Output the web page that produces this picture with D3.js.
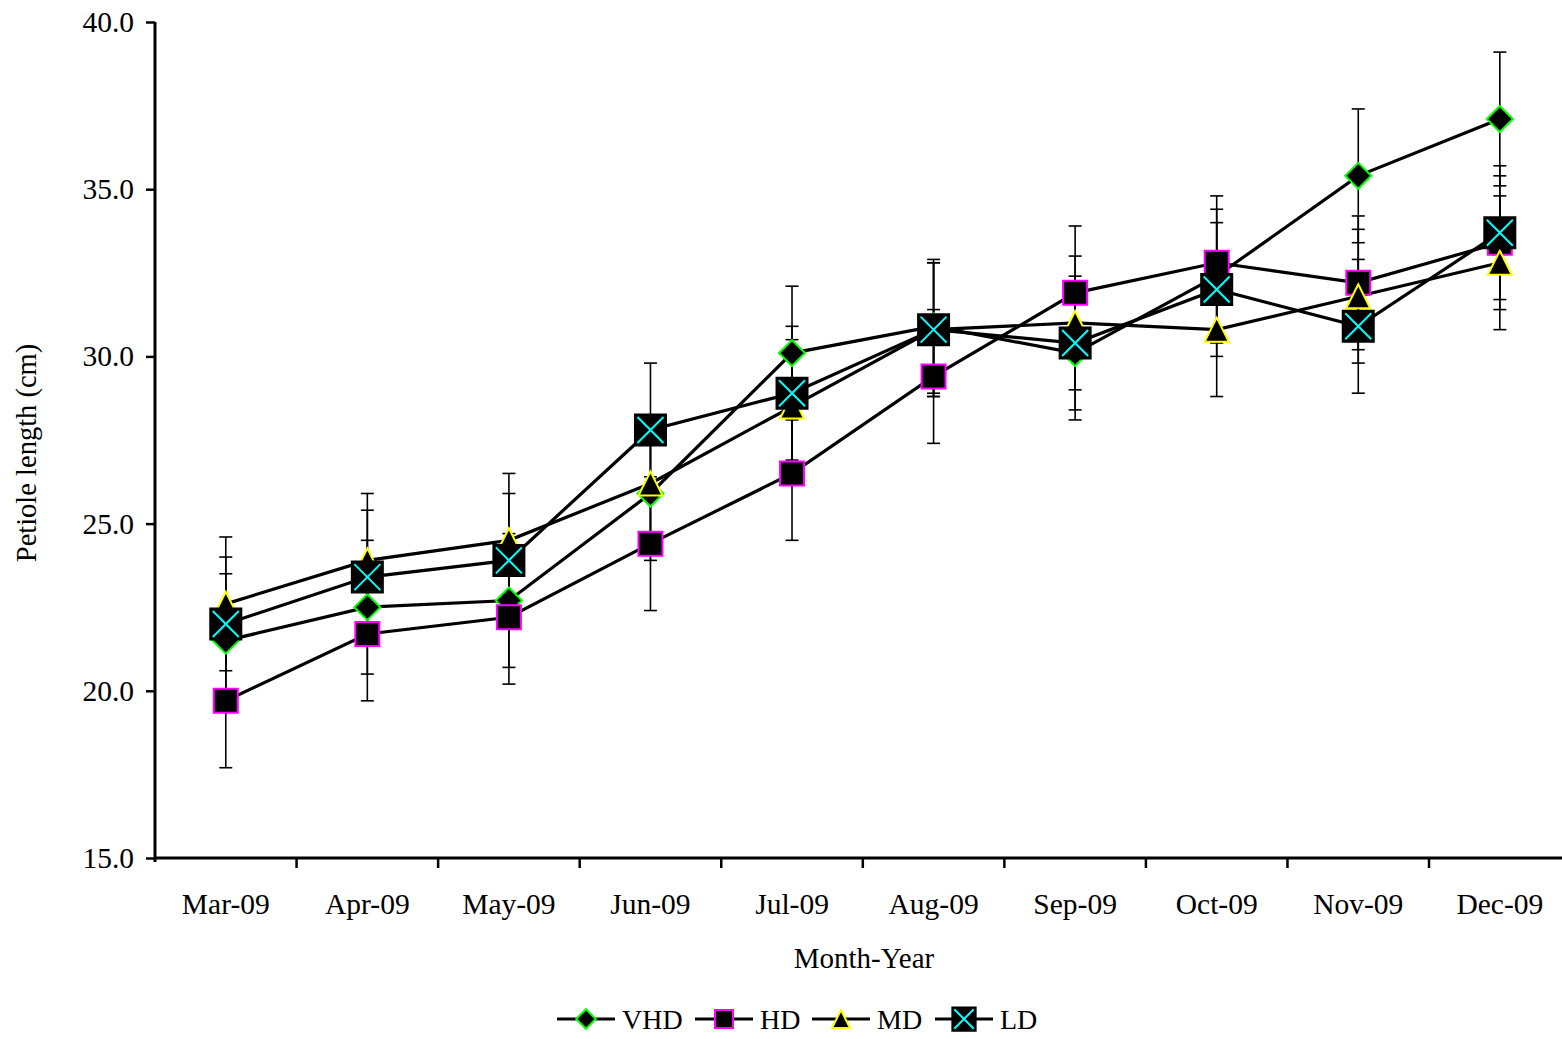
<!DOCTYPE html>
<html>
<head>
<meta charset="utf-8">
<script src="https://cdn.jsdelivr.net/npm/d3@7"></script>
<style>
  body { margin: 0; background: #fff; }
  svg text { font-family: "Liberation Serif", "Times New Roman", serif; fill: #000; }
</style>
</head>
<body>
<svg id="chart" width="1562" height="1039"></svg>
<script>
// datos
const months = ["Mar-09", "Apr-09", "May-09", "Jun-09", "Jul-09", "Aug-09", "Sep-09", "Oct-09", "Nov-09", "Dec-09"];
const vhd = [21.5, 22.5, 22.7, 25.9, 30.1, 30.9, 30.1, 32.4, 35.4, 37.1];
const hd  = [19.7, 21.7, 22.2, 24.4, 26.5, 29.4, 31.9, 32.8, 32.2, 33.4];
const md  = [22.6, 23.9, 24.5, 26.2, 28.5, 30.8, 31.0, 30.8, 31.8, 32.8];
const ld  = [22.0, 23.4, 23.9, 27.8, 28.9, 30.8, 30.4, 32.0, 30.9, 33.7];
const errorBar = 2.0;
const yTicks = [15, 20, 25, 30, 35, 40];

const seriesNames = ["VHD", "HD", "MD", "LD"];
const seriesValues = [vhd, hd, md, ld];

let svg = d3.select("#chart");

// escalas
let x = d3.scaleBand()
    .domain(months)
    .range([155, 1570.6]);

let y = d3.scaleLinear()
    .domain([15, 40])
    .range([858, 22]);

// formas de los marcadores
function markerPath(name, s) {
    if (name === "VHD") {
        let r = 13 * s;
        return `M0,${-r}L${r},0L0,${r}L${-r},0Z`;
    }
    if (name === "HD") {
        let h = 12 * s;
        return `M${-h},${-h}H${h}V${h}H${-h}Z`;
    }
    if (name === "MD") {
        let h = 12 * s;
        return `M0,${-h}L${h},${h}L${-h},${h}Z`;
    }
    let h = 15.5 * s;
    return `M${-h},${-h}H${h}V${h}H${-h}Z`;
}
const strokeColors = { VHD: "#00ff00", HD: "#ff00ff", MD: "#ffff00", LD: "#000" };

function drawMarker(g, name, s) {
    g.append("path")
        .attr("d", markerPath(name, s))
        .attr("fill", "#000")
        .attr("stroke", strokeColors[name])
        .attr("stroke-width", 2);
    if (name === "LD") {
        let c = 13 * s;
        g.append("path")
            .attr("d", `M${-c},${-c}L${c},${c}M${c},${-c}L${-c},${c}`)
            .attr("stroke", "#00ffff")
            .attr("stroke-width", 2);
    }
}

let cx = m => x(m) + x.bandwidth() / 2;

// ejes
let yAxis = d3.axisLeft(y)
    .tickValues(yTicks)
    .tickSize(9)
    .tickPadding(12)
    .tickFormat(d3.format(".1f"));

let gy = svg.append("g")
    .attr("transform", "translate(155,0)")
    .call(yAxis);
gy.select(".domain").attr("stroke-width", 3).attr("d", "M0,22V862");
gy.selectAll(".tick line").attr("stroke-width", 2.5);
gy.selectAll(".tick text")
    .attr("font-size", 29.5)
    .attr("font-family", "Liberation Serif");

let xAxis = d3.axisBottom(x)
    .tickSize(0)
    .tickPadding(35);

let gx = svg.append("g")
    .attr("transform", "translate(0,858)")
    .call(xAxis);
gx.select(".domain").attr("stroke-width", 3).attr("d", "M155,0H1571");
gx.selectAll(".tick text")
    .attr("font-size", 29.5)
    .attr("font-family", "Liberation Serif");

// marcas entre categorias
gx.selectAll(".sep")
    .data(months.slice(1))
    .enter()
    .append("line")
    .attr("x1", d => x(d))
    .attr("x2", d => x(d))
    .attr("y1", 0)
    .attr("y2", 10)
    .attr("stroke", "#000")
    .attr("stroke-width", 2.5);

// titulos de los ejes
svg.append("text")
    .attr("x", 864)
    .attr("y", 968)
    .attr("text-anchor", "middle")
    .attr("font-size", 29)
    .text("Month-Year");

svg.append("text")
    .attr("transform", "translate(36,453) rotate(-90)")
    .attr("text-anchor", "middle")
    .attr("font-size", 28.5)
    .text("Petiole length (cm)");

// barras de error
let plot = svg.append("g");
seriesValues.forEach(vals => {
    let eb = plot.append("g");
    vals.forEach((v, i) => {
        let px = cx(months[i]);
        eb.append("line")
            .attr("x1", px).attr("x2", px)
            .attr("y1", y(v + errorBar)).attr("y2", y(v - errorBar))
            .attr("stroke", "#000").attr("stroke-width", 1.6);
        [v + errorBar, v - errorBar].forEach(e => {
            eb.append("line")
                .attr("x1", px - 6.5).attr("x2", px + 6.5)
                .attr("y1", y(e)).attr("y2", y(e))
                .attr("stroke", "#000").attr("stroke-width", 1.6);
        });
    });
});

// lineas
let line = d3.line()
    .x((d, i) => cx(months[i]))
    .y(d => y(d));

seriesValues.forEach(vals => {
    plot.append("path")
        .datum(vals)
        .attr("d", line)
        .attr("fill", "none")
        .attr("stroke", "#000")
        .attr("stroke-width", 3.2);
});

// marcadores
seriesValues.forEach((vals, k) => {
    vals.forEach((v, i) => {
        let g = plot.append("g").attr("transform", `translate(${cx(months[i])},${y(v)})`);
        drawMarker(g, seriesNames[k], 1);
    });
});

// leyenda
const legendX = [557, 695, 812, 935];
let legend = svg.append("g").attr("transform", "translate(0,1019)");
seriesNames.forEach((name, k) => {
    let lg = legend.append("g").attr("transform", `translate(${legendX[k]},0)`);
    lg.append("line")
        .attr("x1", 0).attr("x2", 58)
        .attr("y1", 0).attr("y2", 0)
        .attr("stroke", "#000").attr("stroke-width", 3.2);
    let mg = lg.append("g").attr("transform", "translate(29,0)");
    drawMarker(mg, name, 0.75);
    lg.append("text")
        .attr("x", 65)
        .attr("y", 10)
        .attr("font-size", 28)
        .text(name);
});
</script>
</body>
</html>
